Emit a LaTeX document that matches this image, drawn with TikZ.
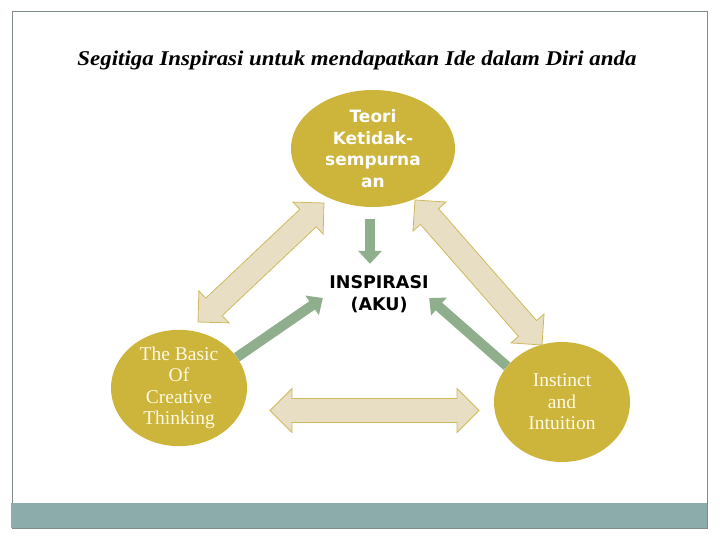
\documentclass[tikz,border=0pt]{standalone}
\usepackage{fontspec}
\setmainfont{Liberation Serif}
\newfontfamily\boldsans{DejaVu Sans}
\newfontfamily\titlefont[FakeStretch=1.09]{Liberation Serif}
\usetikzlibrary{calc,arrows.meta,shapes.geometric}
\definecolor{blob}{RGB}{204,181,58}
\definecolor{sand}{RGB}{232,222,196}
\definecolor{sandline}{RGB}{206,186,92}
\definecolor{leaf}{RGB}{143,175,140}
\definecolor{frame}{RGB}{130,140,140}
\definecolor{band}{RGB}{139,172,170}
\definecolor{cream}{RGB}{255,250,228}

\newcommand{\BigArrow}[2]{%
\draw[bigarrow] (#1) -- ($(#1)!22pt!(#2)!22pt!90:(#2)$) -- ($(#1)!22pt!(#2)!12pt!90:(#2)$)
 -- ($(#2)!22pt!(#1)!12pt!-90:(#1)$) -- ($(#2)!22pt!(#1)!22pt!-90:(#1)$) -- (#2)
 -- ($(#2)!22pt!(#1)!22pt!90:(#1)$) -- ($(#2)!22pt!(#1)!12pt!90:(#1)$)
 -- ($(#1)!22pt!(#2)!12pt!-90:(#2)$) -- ($(#1)!22pt!(#2)!22pt!-90:(#2)$) -- cycle;}

\begin{document}
\begin{tikzpicture}[x=1pt,y=-1pt,
  blob/.style={ellipse,fill=blob,inner sep=0pt,align=center},
  bigarrow/.style={fill=sand,draw=sandline,line width=0.8pt,line join=miter},
  greenarr/.style={draw=leaf,line width=10pt,-{Triangle[length=13pt,width=23pt]}}]
\useasboundingbox (0,0) rectangle (720,540);
\draw[frame,line width=1pt] (12,12) rectangle (707,528);
\fill[band] (11,503) rectangle (707,528);

\node[font=\titlefont\bfseries\itshape\fontsize{21}{24}\selectfont] (title) at (357,60)
  {Segitiga Inspirasi untuk mendapatkan Ide dalam Diri anda};

\node[blob,minimum width=164pt,minimum height=117pt,text=white,
  font=\boldsans\bfseries\fontsize{17}{21.5}\selectfont] (teori) at (373,148.5)
  {Teori\\Ketidak-\\sempurna\\an};
\node[blob,minimum width=136pt,minimum height=114pt,text=cream,
  font=\fontsize{19.5}{21.5}\selectfont] (basic) at (179,388)
  {The Basic\\Of\\Creative\\Thinking};
\node[blob,minimum width=136pt,minimum height=120pt,text=cream,
  font=\fontsize{19.5}{21.5}\selectfont] (instinct) at (562,402)
  {Instinct\\and\\Intuition};
\node[align=center,font=\boldsans\bfseries\fontsize{17.5}{22}\selectfont] (insp) at (379,294)
  {INSPIRASI\\(AKU)};

\coordinate (ulA) at (198,322);
\coordinate (ulB) at (324,203);
\coordinate (urA) at (415,200);
\coordinate (urB) at (542,345);
\coordinate (botA) at (270,410.5);
\coordinate (botB) at (479,410.5);
\BigArrow{ulA}{ulB}
\BigArrow{urA}{urB}
\BigArrow{botA}{botB}

\draw[greenarr,shorten <=12pt,shorten >=8pt] ([xshift=-3pt]teori.south) -- ([xshift=-3pt]teori.south |- insp.north);
\draw[greenarr] (basic.28) -- ([xshift=-3pt,yshift=-4pt]insp.west);
\draw[greenarr] (instinct.147) -- ([xshift=-3pt,yshift=-4pt]insp.east);
\end{tikzpicture}
\end{document}
